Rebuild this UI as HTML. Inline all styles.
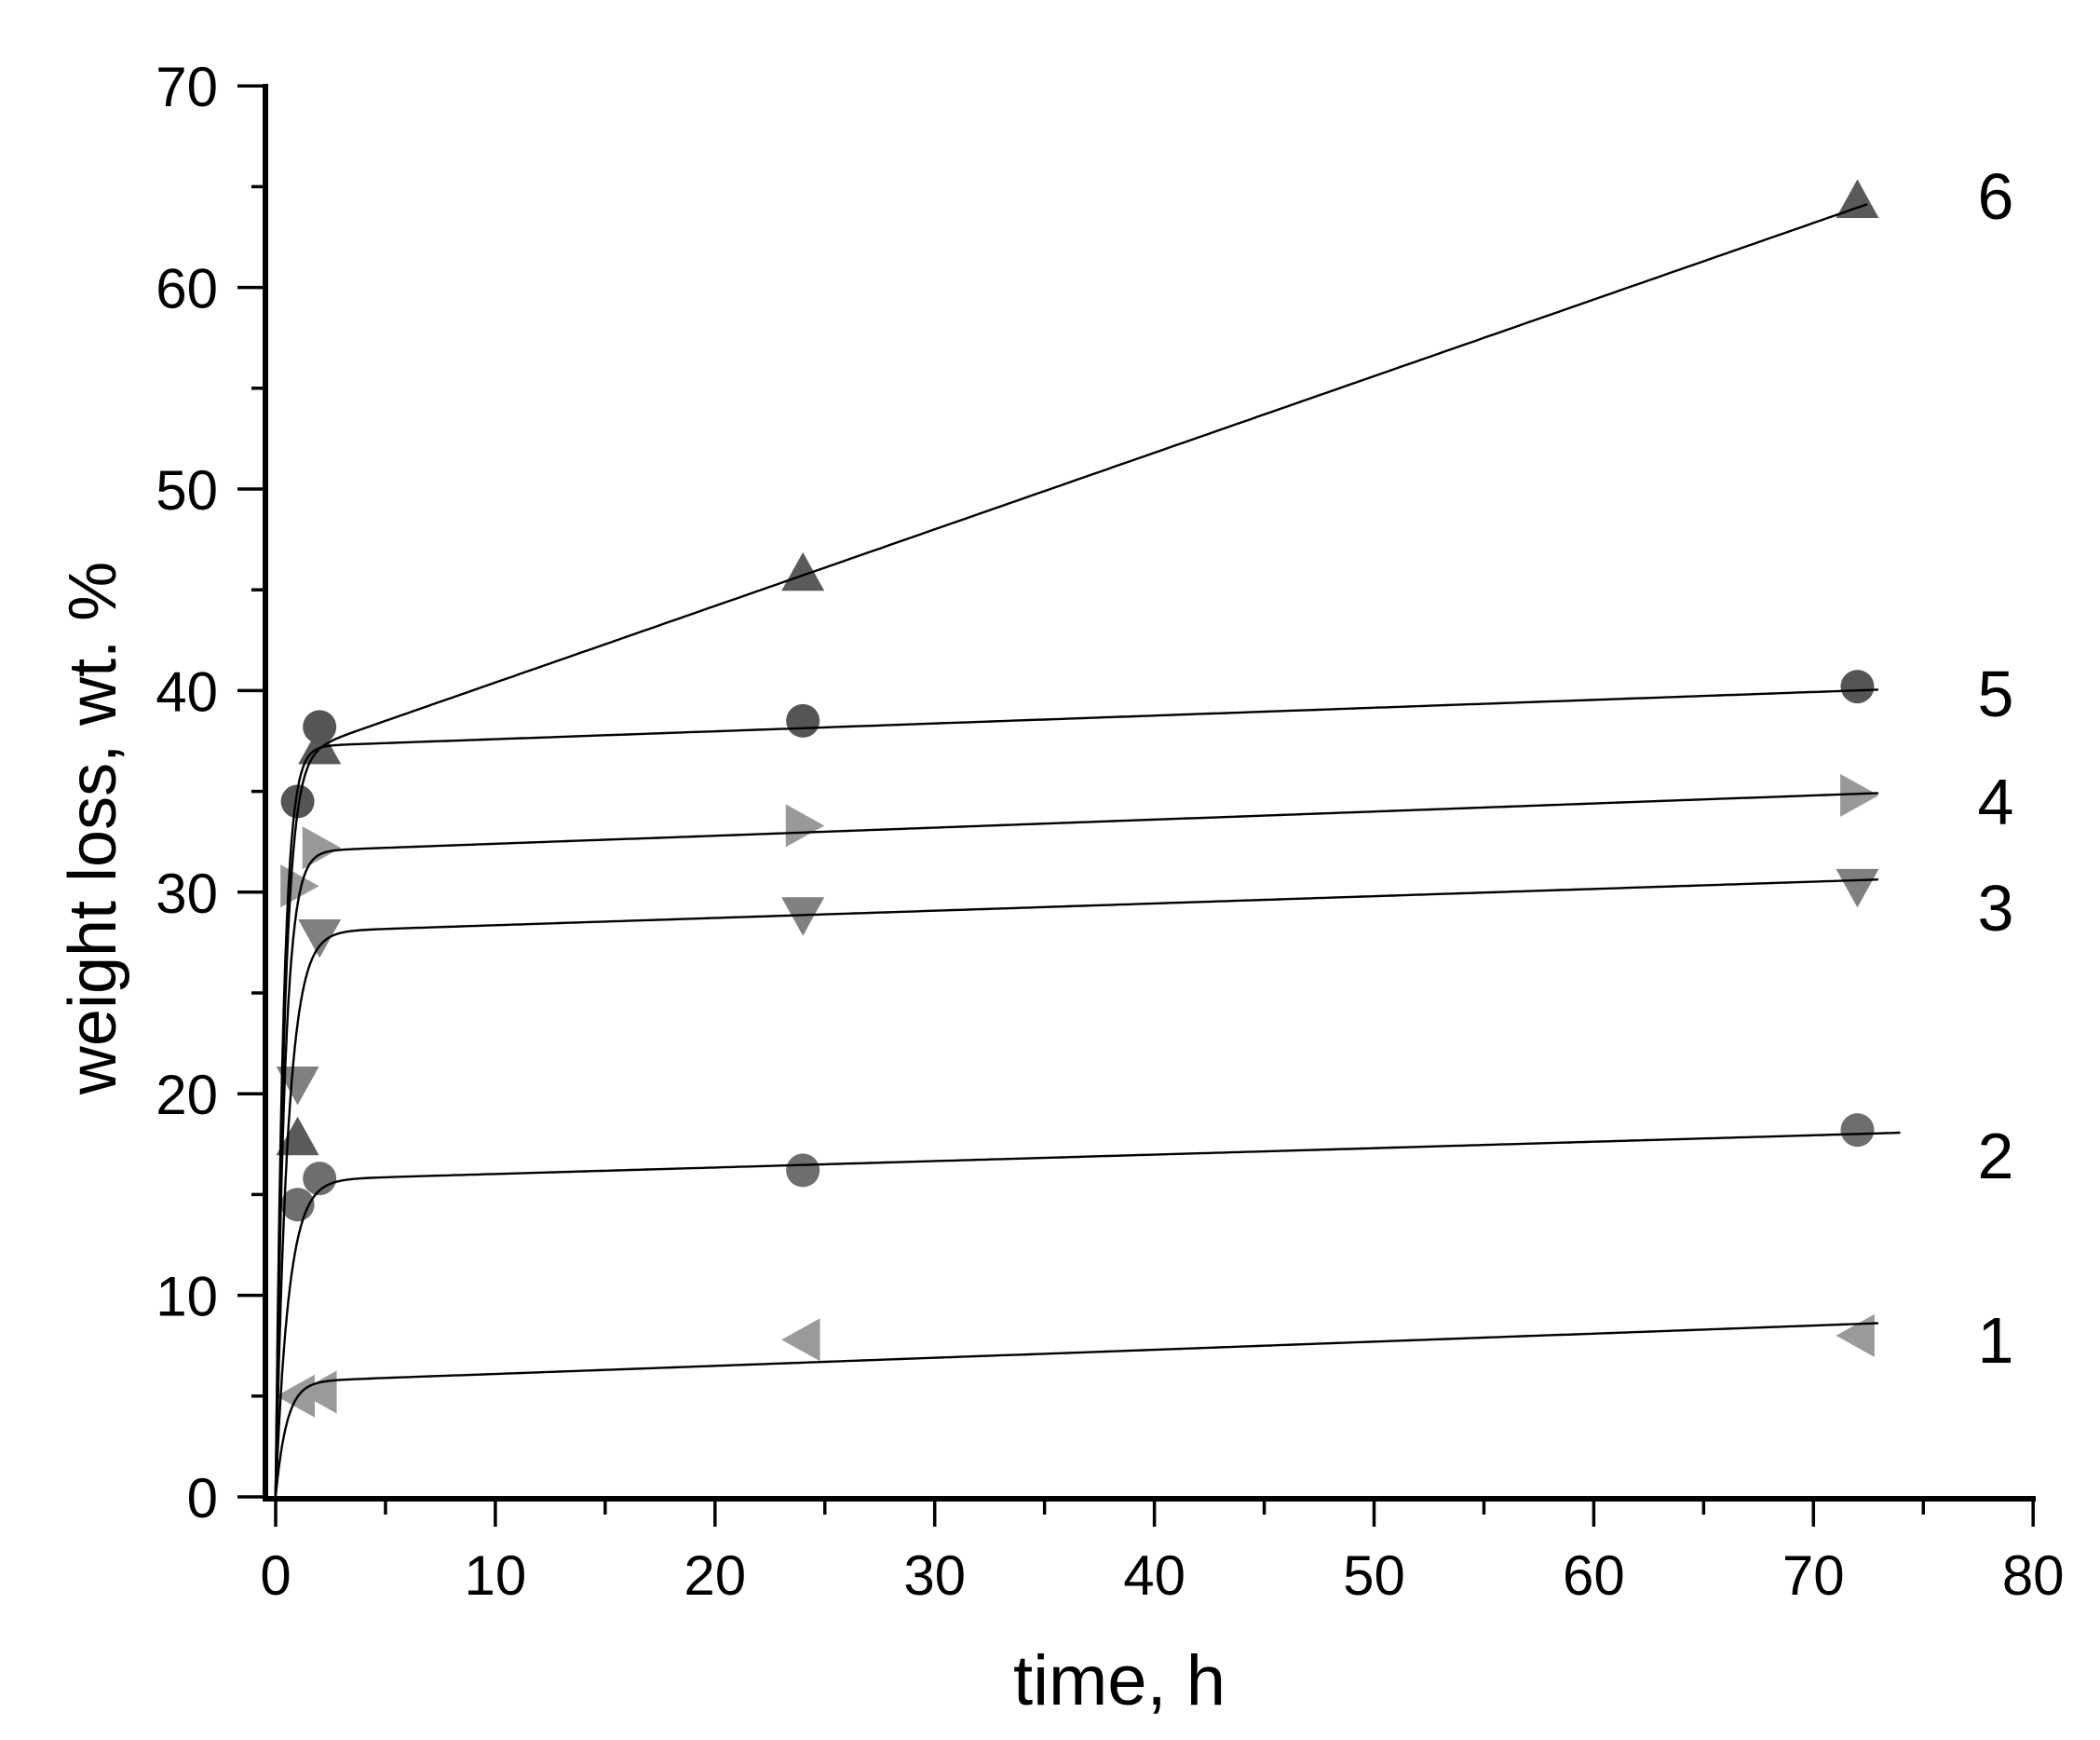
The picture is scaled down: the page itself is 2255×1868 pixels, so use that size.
<!DOCTYPE html>
<html><head><meta charset="utf-8"><style>
html,body{margin:0;padding:0;background:#fff;}
svg{display:block;}
text{font-family:"Liberation Sans",sans-serif;fill:#000;}
</style></head><body>
<svg id="s" width="2255" height="1868" viewBox="0 0 2255 1868" xmlns="http://www.w3.org/2000/svg">
<rect width="2255" height="1868" fill="#fff"/>
<g id="g"></g>
</svg>
<script>
var X=function(t){return 296+t*23.59;}, Y=function(v){return 1607-v*21.64;};
var h='';
h+='<line x1="285" y1="90" x2="285" y2="1612" stroke="#000" stroke-width="6"/>';
h+='<line x1="282" y1="1609" x2="2186" y2="1609" stroke="#000" stroke-width="6"/>';
for(var v=0;v<=70;v+=5){var y=Y(v);var L=(v%10==0)?30:15;h+='<line x1="'+(285-L)+'" y1="'+y+'" x2="285" y2="'+y+'" stroke="#000" stroke-width="3.5"/>';
 if(v%10==0)h+='<text x="234" y="'+(y+22)+'" font-size="60" text-anchor="end">'+v+'</text>';}
for(var t=0;t<=80;t+=5){var x=X(t);var L=(t%10==0)?30:17;h+='<line x1="'+x+'" y1="1609" x2="'+x+'" y2="'+(1609+L)+'" stroke="#000" stroke-width="3.5"/>';
 if(t%10==0)h+='<text x="'+x+'" y="1712" font-size="60" text-anchor="middle">'+t+'</text>';}
h+='<text x="1202" y="1830" font-size="76" text-anchor="middle">time, h</text>';
h+='<text transform="translate(124,889) rotate(-90)" font-size="72" text-anchor="middle">weight loss, wt. %</text>';
function tri(x,y,d,c){var s=23,p;
 if(d=='u')p=[[x,y-s],[x+s,y+s*0.8],[x-s,y+s*0.8]];
 if(d=='d')p=[[x,y+s],[x+s,y-s*0.8],[x-s,y-s*0.8]];
 if(d=='r')p=[[x+s,y],[x-s*0.8,y-s],[x-s*0.8,y+s]];
 if(d=='l')p=[[x-s,y],[x+s*0.8,y-s],[x+s*0.8,y+s]];
 return '<polygon points="'+p.map(function(a){return a.join(',')}).join(' ')+'" fill="'+c+'"/>';}
function circ(x,y,c){return '<circle cx="'+x+'" cy="'+y+'" r="18" fill="'+c+'"/>';}
var S=[
 {A:36.6,b:0.38,tau:0.4,end:72.5,m:'u',c:'#5a5a5a',pts:[[1,17.8],[2,37.2],[24,45.8],[72,64.3]]},
 {A:37.2,b:0.039,tau:0.35,end:73,m:'o',c:'#555',pts:[[1,34.5],[2,38.2],[24,38.5],[72,40.2]]},
 {A:32,b:0.04,tau:0.4,end:73,m:'r',c:'#999',pts:[[1,30.3],[2,32.2],[24,33.3],[72,34.8]]},
 {A:28,b:0.036,tau:0.55,end:73,m:'d',c:'#808080',pts:[[1,20.5],[2,27.8],[24,28.9],[72,30.3]]},
 {A:15.7,b:0.032,tau:0.6,end:74,m:'o',c:'#6e6e6e',pts:[[1,14.5],[2,15.8],[24,16.2],[72,18.2]]},
 {A:5.7,b:0.04,tau:0.5,end:73,m:'l',c:'#9a9a9a',pts:[[1,5],[2,5.2],[24,7.8],[72,8]]}
];
var mk='',ln='';
S.forEach(function(s){
 s.pts.forEach(function(p){var x=X(p[0]),y=Y(p[1]);mk+=(s.m=='o')?circ(x,y,s.c):tri(x,y,s.m,s.c);});
 var d='';for(var i=0;i<=400;i++){var t=-0.05+ (i<200? i*0.02 : 4+(i-200)*(s.end-4)/200);var v=t<0?0:s.A*(1-Math.exp(-t/s.tau))+s.b*t;d+=(i?'L':'M')+X(t).toFixed(1)+','+Y(v).toFixed(1);}
 ln+='<path d="'+d+'" fill="none" stroke="#000" stroke-width="2.4"/>';
});
h+=mk+ln;
var labs=[['6',210],['5',744],['4',860],['3',974],['2',1240],['1',1438]];
labs.forEach(function(l){h+='<text x="2143" y="'+(l[1]+25)+'" font-size="70" text-anchor="middle">'+l[0]+'</text>';});
document.getElementById('g').innerHTML=h;
</script>
</body></html>
